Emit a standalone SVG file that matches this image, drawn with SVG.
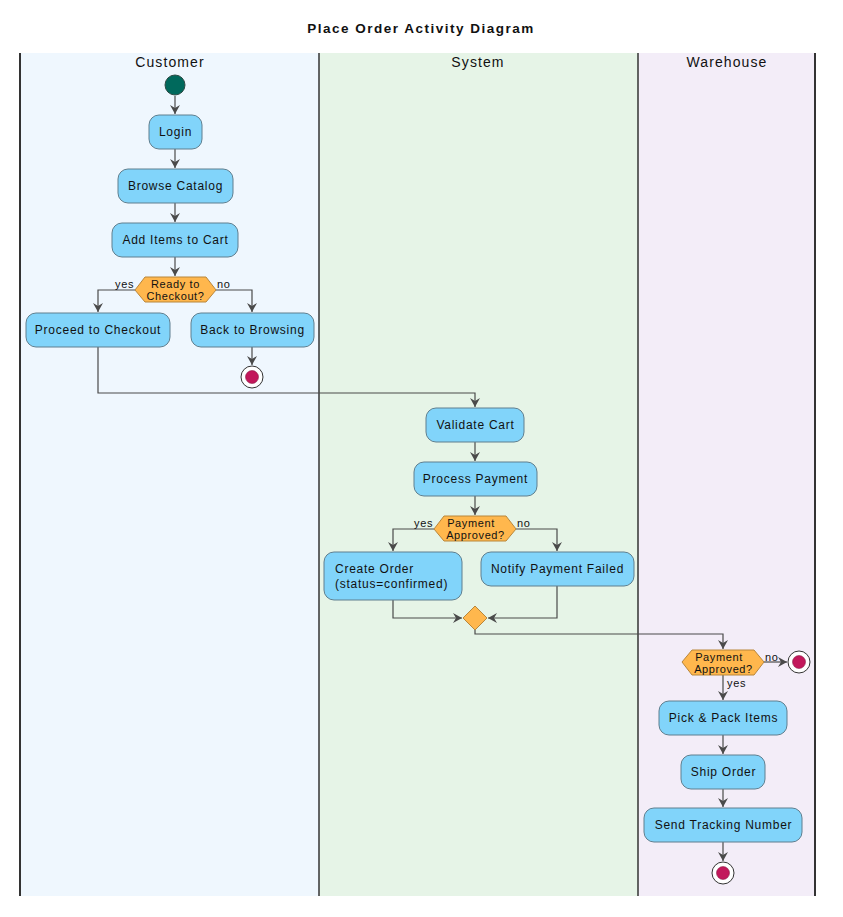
<svg xmlns="http://www.w3.org/2000/svg" width="843" height="917" viewBox="0 0 843 917">
<style>
text{font-family:"Liberation Sans",Arial,sans-serif;fill:#111;}
.title{font-size:13.5px;font-weight:bold;letter-spacing:1.5px;text-anchor:middle;}
.lane{font-size:14px;letter-spacing:1.1px;text-anchor:middle;}
.act rect{fill:#81D4FA;stroke:#5F7F8F;stroke-width:1;}
.act text{font-size:12px;letter-spacing:0.75px;text-anchor:middle;}
.dec polygon{fill:#FFB74D;stroke:#B8863B;stroke-width:1;}
.dec text{font-size:11px;letter-spacing:0.6px;text-anchor:middle;}
.lbl{font-size:11px;letter-spacing:0.7px;}
.edge{fill:none;stroke:#4A4A4A;stroke-width:1.2;marker-end:url(#arr);}
.endo{fill:#fff;stroke:#333;stroke-width:1;}
.endi{fill:#C2185B;stroke:#7a1038;stroke-width:0.5;}
</style>
<defs>
<marker id="arr" markerWidth="10" markerHeight="10" refX="9" refY="5" orient="auto" markerUnits="userSpaceOnUse">
<path d="M0,0 L9,5 L0,10 L3,5 Z" fill="#4A4A4A"/>
</marker>
</defs>
<rect width="843" height="917" fill="#fff"/>
<text class="title" x="421" y="33">Place Order Activity Diagram</text>
<g id="lanes">
<rect x="20" y="53" width="299" height="843" fill="#EFF7FE"/>
<rect x="319" y="53" width="319" height="843" fill="#E6F4E7"/>
<rect x="638" y="53" width="177" height="843" fill="#F3EDF8"/>
<line x1="20" y1="53" x2="20" y2="896" stroke="#333" stroke-width="2"/>
<line x1="319" y1="53" x2="319" y2="896" stroke="#333" stroke-width="1.5"/>
<line x1="638" y1="53" x2="638" y2="896" stroke="#333" stroke-width="1.5"/>
<line x1="815" y1="53" x2="815" y2="896" stroke="#333" stroke-width="2"/>
<text class="lane" x="170" y="67">Customer</text>
<text class="lane" x="478" y="67">System</text>
<text class="lane" x="727" y="67">Warehouse</text>
</g>
<g id="connectors">
<path class="edge" d="M175,96 V114"/>
<path class="edge" d="M175,149 V168"/>
<path class="edge" d="M175,203 V222"/>
<path class="edge" d="M175,257 V276"/>
<path class="edge" d="M135,290 H98 V312"/>
<path class="edge" d="M216,290 H252 V312"/>
<path class="edge" d="M252,347 V365"/>
<path class="edge" d="M98,347 V393 H475 V407"/>
<path class="edge" d="M475,442 V461"/>
<path class="edge" d="M475,496 V515"/>
<path class="edge" d="M434,529 H393 V551"/>
<path class="edge" d="M516,529 H557 V551"/>
<path class="edge" d="M393,600 V618 H462"/>
<path class="edge" d="M557,586 V618 H488"/>
<path class="edge" d="M475,630 V634 H723 V649"/>
<path class="edge" d="M764,662 H787"/>
<path class="edge" d="M723,675 V700"/>
<path class="edge" d="M723,735 V754"/>
<path class="edge" d="M723,789 V807"/>
<path class="edge" d="M723,842 V861"/>
<text class="lbl" x="115" y="288">yes</text>
<text class="lbl" x="217" y="288">no</text>
<text class="lbl" x="414" y="527">yes</text>
<text class="lbl" x="517" y="527">no</text>
<text class="lbl" x="765" y="661">no</text>
<text class="lbl" x="727" y="687">yes</text>
</g>
<g id="start"><circle cx="175" cy="85" r="10" fill="#00695C" stroke="#2d4a44" stroke-width="1"/></g>
<g id="login" class="act"><rect x="149" y="115" width="53" height="34" rx="10"/><text x="175.5" y="136">Login</text></g>
<g id="browse" class="act"><rect x="118" y="169" width="115" height="34" rx="10"/><text x="175.5" y="190">Browse Catalog</text></g>
<g id="additems" class="act"><rect x="112" y="223" width="126" height="34" rx="10"/><text x="175.5" y="244">Add Items to Cart</text></g>
<g id="dec1" class="dec"><polygon points="135,290 145,277 206,277 216,290 206,302 145,302"/><text x="175.5" y="287.5">Ready to</text><text x="175.5" y="299.5">Checkout?</text></g>
<g id="proceed" class="act"><rect x="26" y="313" width="144" height="34" rx="10"/><text x="98" y="334">Proceed to Checkout</text></g>
<g id="back" class="act"><rect x="191" y="313" width="123" height="34" rx="10"/><text x="252.5" y="334">Back to Browsing</text></g>
<g id="end1"><circle class="endo" cx="252" cy="377" r="11"/><circle class="endi" cx="252" cy="377" r="6.5"/></g>
<g id="validate" class="act"><rect x="426" y="408" width="98" height="34" rx="10"/><text x="475.5" y="429">Validate Cart</text></g>
<g id="process" class="act"><rect x="414" y="462" width="123" height="34" rx="10"/><text x="475.5" y="483">Process Payment</text></g>
<g id="dec2" class="dec"><polygon points="434,529 444,516 506,516 516,529 506,541 444,541"/><text x="471" y="527">Payment</text><text x="475.5" y="539">Approved?</text></g>
<g id="create" class="act"><rect x="324" y="552" width="138" height="48" rx="10"/><text x="335" y="573" style="text-anchor:start">Create Order</text><text x="335" y="588" style="text-anchor:start">(status=confirmed)</text></g>
<g id="notify" class="act"><rect x="481" y="552" width="153" height="34" rx="10"/><text x="557.5" y="573">Notify Payment Failed</text></g>
<g id="merge"><polygon points="475,606 487,618 475,630 463,618" fill="#FFB74D" stroke="#B8863B" stroke-width="1"/></g>
<g id="dec3" class="dec"><polygon points="682,662 692,650 754,650 764,662 754,675 692,675"/><text x="719" y="661">Payment</text><text x="723.5" y="673">Approved?</text></g>
<g id="end2"><circle class="endo" cx="799" cy="662" r="11"/><circle class="endi" cx="799" cy="662" r="6.5"/></g>
<g id="pick" class="act"><rect x="659" y="701" width="128" height="34" rx="10"/><text x="723.5" y="722">Pick &amp; Pack Items</text></g>
<g id="ship" class="act"><rect x="681" y="755" width="84" height="34" rx="10"/><text x="723.5" y="776">Ship Order</text></g>
<g id="send" class="act"><rect x="644" y="808" width="158" height="34" rx="10"/><text x="723.5" y="829">Send Tracking Number</text></g>
<g id="end3"><circle class="endo" cx="723" cy="873" r="11"/><circle class="endi" cx="723" cy="873" r="6.5"/></g>
</svg>
